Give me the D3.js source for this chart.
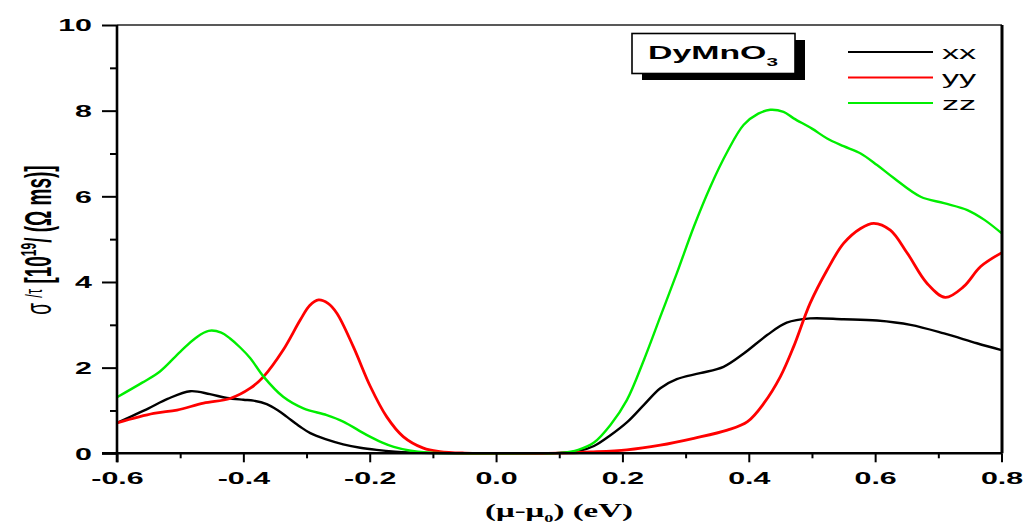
<!DOCTYPE html>
<html>
<head>
<meta charset="utf-8">
<script src="https://cdn.jsdelivr.net/npm/d3@7"></script>
<style>
  html, body { margin: 0; padding: 0; background: #fff; }
  svg { display: block; }
</style>
</head>
<body>
<svg id="chart" width="1025" height="523"></svg>
<script>
// Conductivity per relaxation time of DyMnO3 versus chemical potential, three tensor components
const seriesNames = ["xx", "yy", "zz"];
const seriesColors = ["#000000", "#ff0000", "#00ee00"];

// [mu - mu0 (eV), sigma/tau (1e19 / (Ohm m s))]
const xxData = [
  [-0.6, 0.71], [-0.55, 1.05], [-0.52, 1.27], [-0.484, 1.45], [-0.453, 1.38], [-0.426, 1.29],
  [-0.40, 1.25], [-0.384, 1.23], [-0.363, 1.15], [-0.345, 1.0], [-0.331, 0.85], [-0.31, 0.62],
  [-0.294, 0.47], [-0.27, 0.33], [-0.242, 0.21], [-0.215, 0.13], [-0.189, 0.08], [-0.16, 0.04],
  [-0.136, 0.02], [-0.1, 0.005], [-0.05, 0], [0, 0], [0.05, 0], [0.1, 0.01], [0.13, 0.05],
  [0.155, 0.17], [0.181, 0.42], [0.207, 0.72], [0.234, 1.13], [0.26, 1.52], [0.286, 1.73],
  [0.323, 1.87], [0.36, 2.02], [0.392, 2.33], [0.429, 2.76], [0.46, 3.05], [0.497, 3.15],
  [0.55, 3.13], [0.603, 3.10], [0.656, 3.00], [0.709, 2.80], [0.761, 2.57], [0.8, 2.41]
];
const yyData = [
  [-0.6, 0.71], [-0.542, 0.93], [-0.505, 1.01], [-0.463, 1.17], [-0.421, 1.28], [-0.389, 1.52],
  [-0.368, 1.79], [-0.337, 2.41], [-0.31, 3.11], [-0.295, 3.45], [-0.281, 3.58], [-0.266, 3.5],
  [-0.252, 3.27], [-0.226, 2.49], [-0.199, 1.56], [-0.173, 0.85], [-0.147, 0.39], [-0.115, 0.12],
  [-0.089, 0.04], [-0.05, 0.005], [0, 0], [0.1, 0.005], [0.15, 0.03], [0.207, 0.08], [0.26, 0.19],
  [0.313, 0.35], [0.366, 0.54], [0.398, 0.74], [0.424, 1.17], [0.45, 1.79], [0.471, 2.49],
  [0.497, 3.50], [0.524, 4.28], [0.55, 4.90], [0.577, 5.25], [0.598, 5.37], [0.624, 5.21],
  [0.651, 4.67], [0.682, 3.97], [0.711, 3.64], [0.74, 3.89], [0.767, 4.36], [0.8, 4.68]
];
const zzData = [
  [-0.6, 1.31], [-0.56, 1.65], [-0.532, 1.91], [-0.5, 2.37], [-0.475, 2.7], [-0.455, 2.86],
  [-0.435, 2.82], [-0.421, 2.68], [-0.405, 2.47], [-0.389, 2.22], [-0.368, 1.79], [-0.337, 1.32],
  [-0.305, 1.05], [-0.268, 0.89], [-0.242, 0.74], [-0.205, 0.43], [-0.18, 0.25], [-0.162, 0.15],
  [-0.135, 0.06], [-0.11, 0.02], [-0.07, 0.003], [0, 0], [0.07, 0.003], [0.102, 0.01], [0.13, 0.08],
  [0.155, 0.25], [0.181, 0.66], [0.207, 1.24], [0.234, 2.18], [0.26, 3.19], [0.286, 4.20],
  [0.313, 5.29], [0.339, 6.22], [0.366, 7.04], [0.392, 7.67], [0.415, 7.93], [0.434, 8.02],
  [0.455, 7.97], [0.471, 7.82], [0.50, 7.58], [0.524, 7.35], [0.55, 7.17], [0.577, 7.00],
  [0.603, 6.73], [0.63, 6.42], [0.672, 5.99], [0.709, 5.84], [0.746, 5.68], [0.773, 5.45], [0.8, 5.14]
];
const allSeries = [xxData, yyData, zzData];

const xMajorTicks = [-0.6, -0.4, -0.2, 0.0, 0.2, 0.4, 0.6, 0.8];
const xMinorTicks = [-0.5, -0.3, -0.1, 0.1, 0.3, 0.5, 0.7];
const yMajorTicks = [0, 2, 4, 6, 8, 10];
const yMinorTicks = [1, 3, 5, 7, 9];

// glyphs are drawn wide: horizontal stretch applied to all text
const SX = 1.9;

const svg = d3.select("#chart");
const plotLeft = 117, plotRight = 1002, plotTop = 25, plotBottom = 453.3;

const x = d3.scaleLinear().domain([-0.6, 0.8]).range([plotLeft, 1001.5]);
const y = d3.scaleLinear().domain([0, 10]).range([plotBottom, plotTop]);

svg.append("rect").attr("width", 1025).attr("height", 523).attr("fill", "#fff");

// curves
const line = d3.line().x(d => x(d[0])).y(d => Math.min(y(d[1]), plotBottom))
  .curve(d3.curveCatmullRom.alpha(0.5));
svg.append("g").selectAll("path").data(allSeries).join("path")
  .attr("d", line)
  .attr("fill", "none")
  .attr("stroke", (d, i) => seriesColors[i])
  .attr("stroke-width", (d, i) => i === 1 ? 2.8 : 2.4)
  .attr("stroke-linejoin", "round");

// frame: thin top, heavy right
svg.append("line").attr("x1", plotLeft).attr("x2", plotRight).attr("y1", plotTop).attr("y2", plotTop)
  .attr("stroke", "#222").attr("stroke-width", 1.6);
svg.append("line").attr("x1", plotRight).attr("x2", plotRight).attr("y1", plotTop).attr("y2", plotBottom)
  .attr("stroke", "#000").attr("stroke-width", 3);

const hyphenFmt = d => d3.format(".1f")(d).replace("\u2212", "-");

// x axis
const gx = svg.append("g").attr("transform", `translate(0,${plotBottom})`);
gx.call(d3.axisBottom(x).tickValues(xMajorTicks).tickSize(9).tickSizeOuter(0).tickFormat(hyphenFmt));
gx.append("g").call(d3.axisBottom(x).tickValues(xMinorTicks).tickSize(5).tickSizeOuter(0).tickFormat(""))
  .select(".domain").remove();
gx.select(".domain").remove();
gx.selectAll(".tick line").attr("stroke", "#000").attr("stroke-width", 2);
gx.selectAll(".tick text")
  .attr("y", null).attr("dy", null)
  .attr("transform", `translate(0,31) scale(${SX},1)`)
  .attr("font-family", "'Liberation Sans', Arial, sans-serif")
  .attr("font-weight", "bold").attr("font-size", 16).attr("fill", "#000");

// y axis
const gy = svg.append("g").attr("transform", `translate(${plotLeft},0)`);
gy.call(d3.axisLeft(y).tickValues(yMajorTicks).tickSize(15).tickSizeOuter(0).tickFormat(d3.format("d")));
gy.append("g").call(d3.axisLeft(y).tickValues(yMinorTicks).tickSize(7).tickSizeOuter(0).tickFormat(""))
  .select(".domain").remove();
gy.select(".domain").remove();
gy.selectAll(".tick line").attr("stroke", "#000").attr("stroke-width", 2);
gy.selectAll(".tick text")
  .attr("x", 0).attr("dy", null)
  .attr("transform", `translate(-25,5.8) scale(${SX},1)`)
  .attr("font-family", "'Liberation Sans', Arial, sans-serif")
  .attr("font-weight", "bold").attr("font-size", 16).attr("fill", "#000");

// axis lines
svg.append("line").attr("x1", plotLeft).attr("x2", plotLeft).attr("y1", plotTop).attr("y2", plotBottom + 9)
  .attr("stroke", "#000").attr("stroke-width", 2.6);
svg.append("line").attr("x1", plotLeft - 15).attr("x2", plotRight).attr("y1", plotBottom).attr("y2", plotBottom)
  .attr("stroke", "#000").attr("stroke-width", 2.6);

// x-axis title
const xt = svg.append("text")
  .attr("transform", `translate(559,517) scale(1.83,1)`)
  .attr("text-anchor", "middle")
  .attr("font-family", "'Liberation Serif', 'Times New Roman', serif")
  .attr("font-weight", "bold").attr("font-size", 18).attr("fill", "#000");
xt.append("tspan").text("(μ-μ");
xt.append("tspan").attr("font-size", 10).attr("dy", 5).text("0");
xt.append("tspan").attr("dy", -5).text(") (eV)");

// y-axis title
const yt = svg.append("text")
  .attr("transform", `translate(51,240) scale(${SX},1) rotate(-90)`)
  .attr("text-anchor", "middle")
  .attr("font-family", "'Liberation Sans', Arial, sans-serif")
  .attr("font-size", 19).attr("fill", "#000");
yt.append("tspan").text("σ ");
yt.append("tspan").attr("font-size", 13).attr("dy", -5).text("/τ");
yt.append("tspan").attr("dy", 5).attr("font-weight", "bold").text(" [10");
yt.append("tspan").attr("font-weight", "bold").attr("font-size", 12).attr("dy", -8).text("19");
yt.append("tspan").attr("font-weight", "bold").attr("dy", 8).text("/ (Ω ms)]");

// compound label with drop shadow
svg.append("rect").attr("x", 642).attr("y", 40).attr("width", 163).attr("height", 40).attr("fill", "#000");
svg.append("rect").attr("x", 632).attr("y", 33.5).attr("width", 163).attr("height", 40)
  .attr("fill", "#fff").attr("stroke", "#000").attr("stroke-width", 1.6);
const nm = svg.append("text")
  .attr("transform", `translate(648,59) scale(1.88,1)`)
  .attr("font-family", "'Liberation Sans', Arial, sans-serif")
  .attr("font-weight", "bold").attr("font-size", 18).attr("fill", "#000");
nm.append("tspan").text("DyMnO");
nm.append("tspan").attr("font-size", 11).attr("dy", 7).text("3");

// legend
const legY = [52, 77.5, 103];
const leg = svg.append("g");
seriesNames.forEach((name, i) => {
  leg.append("line").attr("x1", 848).attr("x2", 933).attr("y1", legY[i]).attr("y2", legY[i])
    .attr("stroke", seriesColors[i]).attr("stroke-width", 2.2);
  leg.append("text")
    .attr("transform", `translate(942,${legY[i] + 6.5}) scale(1.8,1)`)
    .attr("font-family", "'Liberation Sans', Arial, sans-serif")
    .attr("font-size", 19).attr("fill", "#000")
    .text(name);
});
</script>
</body>
</html>
